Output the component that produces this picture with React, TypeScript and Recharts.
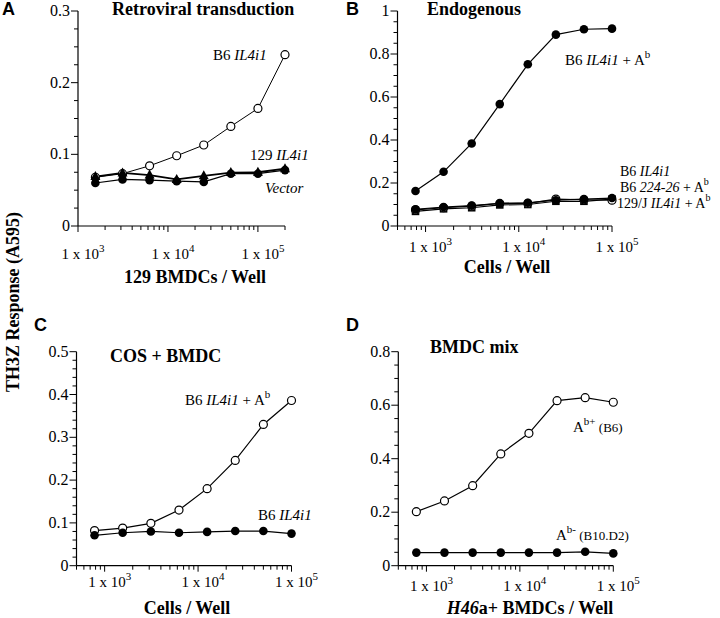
import React from 'react';
import { LineChart, Line, XAxis, YAxis } from 'recharts';

// cells per well (x values)
const cellsA = [1560, 3125, 6250, 12500, 25000, 50000, 100000, 200000];
const cells = [780, 1560, 3125, 6250, 12500, 25000, 50000, 100000];

// A: Retroviral transduction
const aB6 = [0.068, 0.073, 0.084, 0.098, 0.113, 0.139, 0.164, 0.239];
const a129 = [0.069, 0.074, 0.071, 0.065, 0.07, 0.0745, 0.075, 0.08];
const aVector = [0.06, 0.065, 0.064, 0.0625, 0.0615, 0.073, 0.073, 0.078];

// B: Endogenous
const bB6Ab = [0.163, 0.252, 0.384, 0.567, 0.752, 0.89, 0.915, 0.918];
const bB6 = [0.075, 0.085, 0.092, 0.105, 0.105, 0.125, 0.122, 0.12];
const b224 = [0.078, 0.088, 0.095, 0.105, 0.108, 0.12, 0.125, 0.13];
const b129J = [0.068, 0.08, 0.085, 0.098, 0.1, 0.115, 0.115, 0.125];

// C: COS + BMDC
const cB6Ab = [0.082, 0.088, 0.099, 0.13, 0.18, 0.246, 0.33, 0.386];
const cB6 = [0.071, 0.077, 0.08, 0.077, 0.079, 0.081, 0.081, 0.075];

// D: BMDC mix
const dAbPlus = [0.202, 0.242, 0.299, 0.418, 0.495, 0.617, 0.628, 0.611];
const dAbMinus = [0.049, 0.049, 0.049, 0.049, 0.049, 0.049, 0.052, 0.046];

const xMajors = [1000, 10000, 100000];
const xMajorLabels = ['3', '4', '5'];
const logTicks = [
  1000, 2000, 3000, 4000, 5000, 6000, 7000, 8000, 9000,
  10000, 20000, 30000, 40000, 50000, 60000, 70000, 80000, 90000, 100000,
];
const lowTicks = [500, 600, 700, 800, 900];

const yMajorsA = [0, 0.1, 0.2, 0.3];
const yMajorsB = [0, 0.2, 0.4, 0.6, 0.8, 1];
const yMajorsC = [0, 0.1, 0.2, 0.3, 0.4, 0.5];
const yMajorsD = [0, 0.2, 0.4, 0.6, 0.8];

const serif = '"Liberation Serif", "Times New Roman", serif';
const sans = '"Liberation Sans", Arial, sans-serif';

const steps = (max: number, step: number) => {
  const out: number[] = [];
  for (let i = 0; i * step <= max + 1e-9; i++) out.push(Math.round(i * step * 1000) / 1000);
  return out;
};

const near = (a: number, b: number) => Math.abs(a - b) < 1e-6 * Math.max(1, Math.abs(b));

const openDot = (p: any) => (
  <circle key={p.index} cx={p.cx} cy={p.cy} r={4} fill="#fff" stroke="#000" strokeWidth={1.2} />
);
const filledDot = (p: any) => <circle key={p.index} cx={p.cx} cy={p.cy} r={4.3} fill="#000" />;
const triDot = (p: any) => (
  <polygon
    key={p.index}
    points={`${p.cx},${p.cy - 5.5} ${p.cx - 5},${p.cy + 3.5} ${p.cx + 5},${p.cy + 3.5}`}
    fill="#000"
  />
);
const squareDot = (p: any) => (
  <rect key={p.index} x={p.cx - 3.8} y={p.cy - 3.8} width={7.6} height={7.6} fill="#000" />
);

function XTick(props: any) {
  const { x, y, payload, labelDy } = props;
  const mi = xMajors.findIndex((m) => near(m, payload.value));
  const major = mi >= 0;
  return (
    <g>
      <line x1={x} x2={x} y1={y} y2={y + (major ? 6 : 4)} stroke="#000" strokeWidth={1} />
      {major && (
        <text x={x + 5} y={y + labelDy} textAnchor="middle" fontFamily={serif} fontSize={15} fill="#000">
          <tspan>1 x 10</tspan>
          <tspan dy={-7} fontSize={11}>{xMajorLabels[mi]}</tspan>
        </text>
      )}
    </g>
  );
}

function YTick(props: any) {
  const { x, y, payload, majors } = props;
  const major = majors.some((m: number) => near(m, payload.value));
  return (
    <g>
      <line x1={x} x2={x - (major ? 7 : 4)} y1={y} y2={y} stroke="#000" strokeWidth={1} />
      {major && (
        <text x={x - 8} y={y + 5} textAnchor="end" fontFamily={serif} fontSize={16} fill="#000">
          {String(payload.value)}
        </text>
      )}
    </g>
  );
}

type Series = { values: number[]; dot: any; width?: number };

function Panel(props: {
  left: number;
  top: number;
  width: number;
  height: number;
  plot: { x: number; y: number; w: number; h: number };
  x: number[];
  xDomain: [number, number];
  xTicks: number[];
  labelDy: number;
  yMax: number;
  yStep: number;
  yMajors: number[];
  series: Series[];
}) {
  const data = props.x.map((c, i) => {
    const row: any = { cells: c };
    props.series.forEach((s, k) => (row['s' + k] = s.values[i]));
    return row;
  });
  const { plot } = props;
  // axis sizes are 1px, so the plot box starts 1px inside the margin
  const margin = {
    left: plot.x - 1,
    top: plot.y,
    right: props.width - plot.x - plot.w,
    bottom: props.height - plot.y - plot.h - 1,
  };
  return (
    <div style={{ position: 'absolute', left: props.left, top: props.top }}>
      <LineChart width={props.width} height={props.height} data={data} margin={margin}>
        <XAxis
          dataKey="cells"
          type="number"
          scale="log"
          domain={props.xDomain}
          ticks={props.xTicks}
          interval={0}
          height={1}
          tickSize={0}
          tickMargin={0}
          tickLine={false}
          axisLine={{ stroke: '#000', strokeWidth: 1.2 }}
          tick={(p: any) => <XTick {...p} labelDy={props.labelDy} />}
        />
        <YAxis
          type="number"
          domain={[0, props.yMax]}
          ticks={steps(props.yMax, props.yStep)}
          interval={0}
          width={1}
          tickSize={0}
          tickMargin={0}
          tickLine={false}
          axisLine={{ stroke: '#000', strokeWidth: 1.2 }}
          tick={(p: any) => <YTick {...p} majors={props.yMajors} />}
        />
        {props.series.map((s, k) => (
          <Line
            key={k}
            dataKey={'s' + k}
            stroke="#000"
            strokeWidth={s.width ?? 1.2}
            dot={s.dot}
            activeDot={false}
            isAnimationActive={false}
          />
        ))}
      </LineChart>
    </div>
  );
}

const Sup = ({ t, size = 11 }: { t: string; size?: number }) => (
  <tspan dy={-7} fontSize={size}>{t}</tspan>
);

export default function App() {
  return (
    <div style={{ position: 'absolute', left: 0, top: 0, width: 720, height: 618, background: '#fff' }}>
      <Panel
        left={0}
        top={0}
        width={360}
        height={300}
        plot={{ x: 78, y: 11, w: 207, h: 215 }}
        x={cellsA}
        xDomain={[1000, 200000]}
        xTicks={[...logTicks, 200000]}
        labelDy={33}
        yMax={0.3}
        yStep={0.025}
        yMajors={yMajorsA}
        series={[
          { values: aB6, dot: openDot, width: 1 },
          { values: aVector, dot: filledDot, width: 1.2 },
          { values: a129, dot: triDot, width: 1.8 },
        ]}
      />
      <Panel
        left={360}
        top={0}
        width={360}
        height={300}
        plot={{ x: 37.5, y: 11, w: 214.5, h: 215 }}
        x={cells}
        xDomain={[500, 100000]}
        xTicks={[...lowTicks, ...logTicks]}
        labelDy={26}
        yMax={1}
        yStep={0.05}
        yMajors={yMajorsB}
        series={[
          { values: bB6Ab, dot: filledDot },
          { values: b129J, dot: squareDot },
          { values: bB6, dot: openDot },
          { values: b224, dot: filledDot },
        ]}
      />
      <Panel
        left={0}
        top={300}
        width={360}
        height={318}
        plot={{ x: 76.5, y: 51.7, w: 215, h: 214 }}
        x={cells}
        xDomain={[500, 100000]}
        xTicks={[...lowTicks, ...logTicks]}
        labelDy={21}
        yMax={0.5}
        yStep={0.02}
        yMajors={yMajorsC}
        series={[
          { values: cB6Ab, dot: openDot },
          { values: cB6, dot: filledDot },
        ]}
      />
      <Panel
        left={360}
        top={300}
        width={360}
        height={318}
        plot={{ x: 38.3, y: 51.7, w: 215, h: 214 }}
        x={cells}
        xDomain={[500, 100000]}
        xTicks={[...lowTicks, ...logTicks]}
        labelDy={25}
        yMax={0.8}
        yStep={0.05}
        yMajors={yMajorsD}
        series={[
          { values: dAbPlus, dot: openDot },
          { values: dAbMinus, dot: filledDot },
        ]}
      />

      <svg
        width={720}
        height={618}
        style={{ position: 'absolute', left: 0, top: 0, pointerEvents: 'none' }}
        fontFamily={serif}
        fill="#000"
      >
        {/* panel letters */}
        <g fontFamily={sans} fontWeight="bold" fontSize={18}>
          <text x={2} y={15}>A</text>
          <text x={346} y={15}>B</text>
          <text x={34} y={331}>C</text>
          <text x={346} y={331}>D</text>
        </g>

        {/* panel titles and axis titles */}
        <g fontWeight="bold" fontSize={18}>
          <text x={112} y={15}>Retroviral transduction</text>
          <text x={427} y={15}>Endogenous</text>
          <text x={110} y={362}>COS + BMDC</text>
          <text x={430} y={353}>BMDC mix</text>
          <text x={195} y={283} textAnchor="middle">129 BMDCs / Well</text>
          <text x={507} y={273} textAnchor="middle">Cells / Well</text>
          <text x={187} y={614} textAnchor="middle">Cells / Well</text>
          <text x={530} y={614} textAnchor="middle">
            <tspan fontStyle="italic">H46</tspan>a+  BMDCs / Well
          </text>
          <text transform="translate(19,302) rotate(-90)" textAnchor="middle">
            TH3Z Response (A595)
          </text>
        </g>

        {/* series annotations */}
        <g fontSize={15}>
          <text x={213} y={60}>
            B6 <tspan fontStyle="italic">IL4i1</tspan>
          </text>
          <text x={250} y={160}>
            129 <tspan fontStyle="italic">IL4i1</tspan>
          </text>
          <text x={265} y={193} fontStyle="italic">Vector</text>

          <text x={565} y={65}>
            B6 <tspan fontStyle="italic">IL4i1</tspan> + A<Sup t="b" />
          </text>
          <text x={620} y={176} fontSize={14}>
            B6 <tspan fontStyle="italic">IL4i1</tspan>
          </text>
          <text x={620} y={192} fontSize={14}>
            B6 <tspan fontStyle="italic">224-26</tspan> + A<Sup t="b" size={10} />
          </text>
          <text x={617} y={208} fontSize={14}>
            129/J <tspan fontStyle="italic">IL4i1</tspan> + A<Sup t="b" size={10} />
          </text>

          <text x={185} y={405}>
            B6 <tspan fontStyle="italic">IL4i1</tspan>  + A<Sup t="b" />
          </text>
          <text x={258} y={520}>
            B6 <tspan fontStyle="italic">IL4i1</tspan>
          </text>

          <text x={573} y={432}>
            A<Sup t="b+" />
            <tspan dy={7} fontSize={13}> (B6)</tspan>
          </text>
          <text x={556} y={540}>
            A<Sup t="b-" />
            <tspan dy={7} fontSize={13}> (B10.D2)</tspan>
          </text>
        </g>
      </svg>
    </div>
  );
}
